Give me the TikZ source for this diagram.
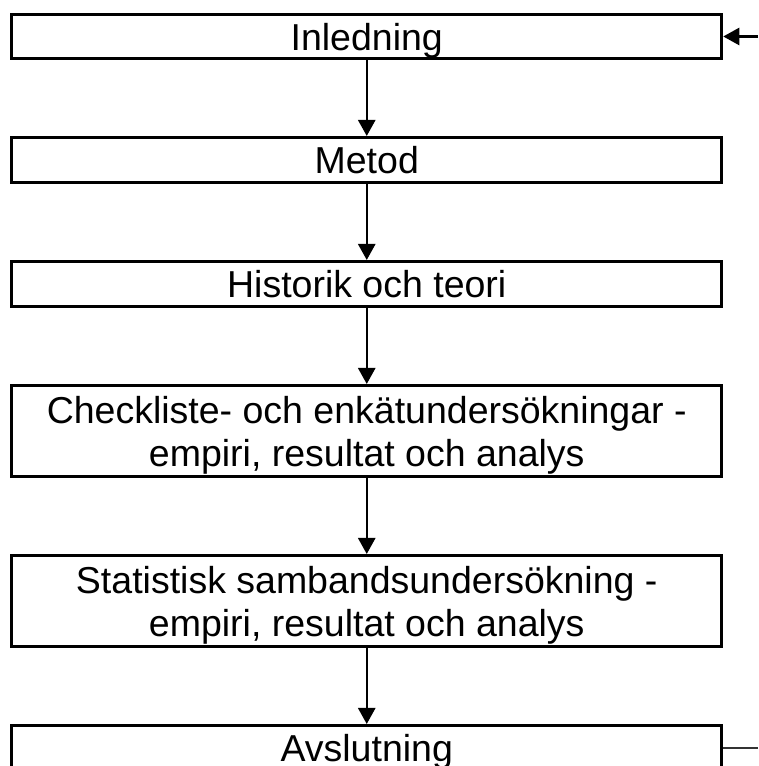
\documentclass[tikz,border=0pt]{standalone}
\usepackage{fontspec}
\setmainfont{Liberation Sans}
\usetikzlibrary{arrows.meta}

\tikzset{
  chapter/.style={draw, line width=3pt, minimum width=710pt, minimum height=45pt,
    inner sep=0pt, text depth=0pt, align=center,
    font=\fontsize{37.5}{43}\selectfont},
  flow/.style={line width=2.5pt, -{Triangle[length=16pt,width=17pt]}},
}

\begin{document}
\begin{tikzpicture}[x=1pt,y=1pt]
  \useasboundingbox (0,0) rectangle (758,766);

  % chapters, top to bottom
  \node[chapter, minimum height=44pt] (inl)  at (366.75,729.5) {Inledning};
  \node[chapter] (met)  at (366.75,606) {Metod};
  \node[chapter] (hist) at (366.75,482) {Historik och teori};
  \node[chapter, minimum height=91pt] (check) at (366.75,335)
    {Checkliste- och enkätundersökningar -\\empiri, resultat och analys};
  \node[chapter, minimum height=91pt] (stat) at (366.75,165)
    {Statistisk sambandsundersökning -\\empiri, resultat och analys};
  \node[chapter] (avsl) at (366.75,18) {Avslutning};

  % arrows between chapters
  \draw[flow] (inl)   -- (met);
  \draw[flow] (met)   -- (hist);
  \draw[flow] (hist)  -- (check);
  \draw[flow] (check) -- (stat);
  \draw[flow] (stat)  -- (avsl);

  % loop back (runs off the page on the right)
  \coordinate (backin)  at (758,729.5);
  \coordinate (backout) at (758,18);
  \draw[flow] (backin) -- (inl.east);
  \draw[line width=1.3pt, black!80] (avsl.east) -- (backout);
\end{tikzpicture}
\end{document}
